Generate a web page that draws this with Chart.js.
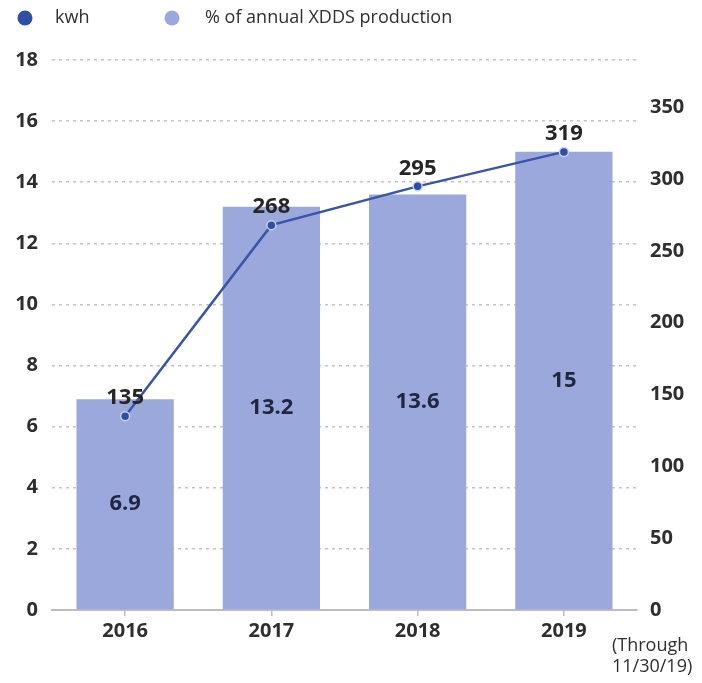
<!DOCTYPE html>
<html>
<head>
<meta charset="utf-8">
<script src="https://cdn.jsdelivr.net/npm/chart.js@4.4.1/dist/chart.umd.min.js"></script>
<style>
  html, body { margin: 0; padding: 0; background: #fff; }
  #wrap { width: 702px; height: 683px; position: relative; }
</style>
</head>
<body>
<div id="wrap"><canvas id="prod-chart" width="702" height="683"></canvas></div>
<script>
const years = ['2016', '2017', '2018', '2019'];
const kwhValues = [135, 268, 295, 319];
const pctValues = [6.9, 13.2, 13.6, 15];
const leftTicks = [0, 2, 4, 6, 8, 10, 12, 14, 16, 18];
const rightTicks = [0, 50, 100, 150, 200, 250, 300, 350];

const LINE_COLOR = '#3a55a8';
const BAR_COLOR = '#9aa8dc';
const FONT = '"Open Sans", "Noto Sans", sans-serif';
const TEXT = '#2e2e2e';

// legend drawn at the top-left, dot + text per series
const legendPlugin = {
    id: 'topLegend',
    afterDraw(chart) {
        const { ctx } = chart;
        const items = [
            { x: 25, tx: 55, color: '#2f4ea6', text: 'kwh' },
            { x: 172, tx: 205, color: BAR_COLOR, text: '% of annual XDDS production' },
        ];
        ctx.save();
        ctx.font = `18px ${FONT}`;
        ctx.textBaseline = 'middle';
        items.forEach((it) => {
            ctx.fillStyle = it.color;
            ctx.beginPath();
            ctx.arc(it.x, 18, 7.5, 0, Math.PI * 2);
            ctx.fill();
            ctx.fillStyle = TEXT;
            ctx.fillText(it.text, it.tx, 18);
        });
        ctx.restore();
    },
};

// value labels: on top of the line points and in the middle of the bars
const valueLabels = {
    id: 'valueLabels',
    afterDatasetsDraw(chart) {
        const { ctx } = chart;
        ctx.save();
        ctx.textAlign = 'center';
        ctx.textBaseline = 'middle';

        const barMeta = chart.getDatasetMeta(1);
        ctx.font = `700 22px ${FONT}`;
        ctx.fillStyle = '#1f2740';
        barMeta.data.forEach((bar, i) => {
            ctx.fillText(String(pctValues[i]), bar.x, (bar.y + bar.base) / 2);
        });

        const lineMeta = chart.getDatasetMeta(0);
        ctx.fillStyle = '#262626';
        lineMeta.data.forEach((pt, i) => {
            ctx.fillText(String(kwhValues[i]), pt.x, pt.y - 18);
        });

        // footnote under the last year
        ctx.font = `18px ${FONT}`;
        ctx.textAlign = 'left';
        ctx.fillStyle = TEXT;
        ctx.fillText('(Through', 612, 646);
        ctx.fillText('11/30/19)', 612, 667);
        ctx.restore();
    },
};

const tickFont = { family: FONT, size: 20, weight: '700' };

const chart = new Chart(document.getElementById('prod-chart').getContext('2d'), {
    type: 'bar',
    data: {
        labels: years,
        datasets: [
            {
                type: 'line',
                label: 'kwh',
                data: kwhValues,
                yAxisID: 'y1',
                borderColor: LINE_COLOR,
                borderWidth: 2.5,
                pointRadius: 4.5,
                pointBackgroundColor: '#2f4ea6',
                pointBorderColor: '#c9d2f0',
                pointBorderWidth: 1.5,
                tension: 0,
                order: 0,
            },
            {
                label: '% of annual XDDS production',
                data: pctValues,
                yAxisID: 'y',
                backgroundColor: BAR_COLOR,
                barPercentage: 0.665,
                categoryPercentage: 1,
                order: 1,
            },
        ],
    },
    options: {
        responsive: false,
        animation: false,
        layout: { padding: { top: 60, left: 0, right: 0, bottom: 0 } },
        plugins: {
            legend: { display: false },
            tooltip: { enabled: false },
        },
        scales: {
            x: {
                grid: {
                    display: true,
                    drawOnChartArea: false,
                    drawTicks: true,
                    tickLength: 6,
                    offset: false,
                    color: '#bdbdbd',
                    lineWidth: 1.5,
                },
                border: { display: true, color: '#bdbdbd', width: 2 },
                ticks: { color: TEXT, padding: 3, font: tickFont },
                afterFit(scale) { scale.height = 73; },
            },
            y: {
                position: 'left',
                min: 0,
                max: 18,
                afterBuildTicks(scale) {
                    scale.ticks = leftTicks.map((v) => ({ value: v }));
                },
                grid: {
                    drawTicks: false,
                    color: (c) => (c.tick && c.tick.value === 0 ? 'rgba(0,0,0,0)' : '#c4c4c4'),
                    lineWidth: 1.5,
                },
                border: { display: false, dash: [3, 4] },
                ticks: { color: TEXT, padding: 14, font: tickFont },
                afterFit(scale) { scale.width = 52; },
            },
            y1: {
                position: 'right',
                min: 0,
                max: 383,
                afterBuildTicks(scale) {
                    scale.ticks = rightTicks.map((v) => ({ value: v }));
                },
                grid: { display: false, drawTicks: false },
                border: { display: false },
                ticks: { color: TEXT, padding: 13, font: tickFont },
                afterFit(scale) { scale.width = 65; },
            },
        },
    },
    plugins: [legendPlugin, valueLabels],
});
</script>
</body>
</html>
